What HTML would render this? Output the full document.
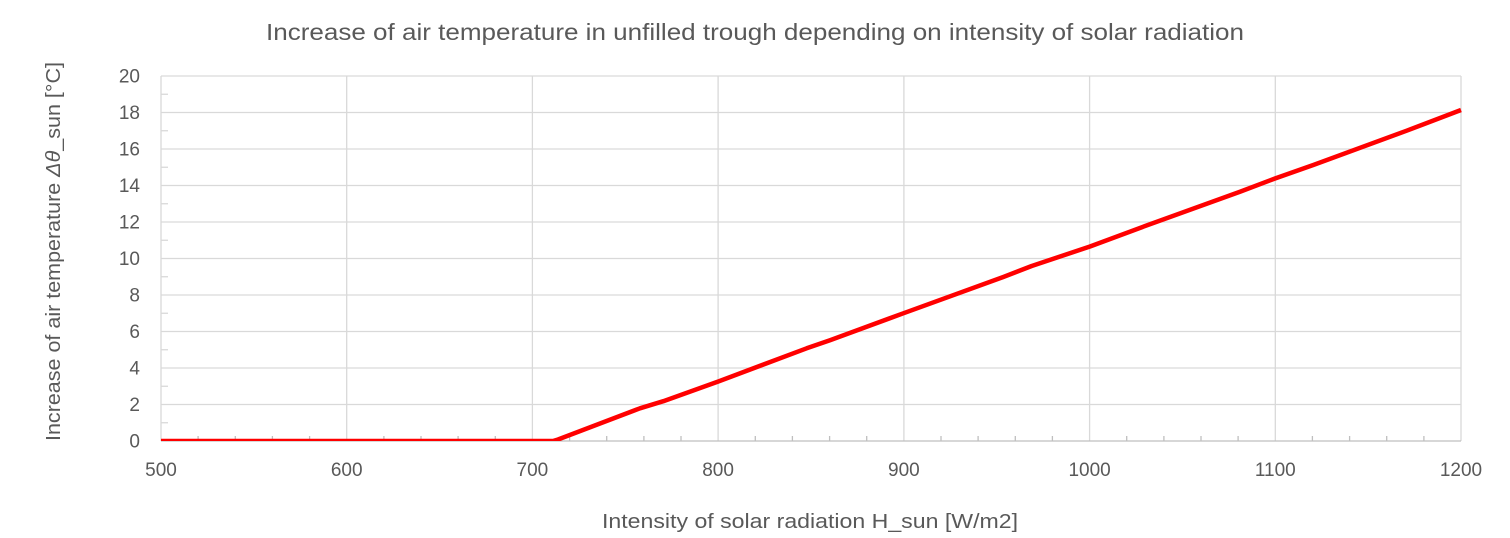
<!DOCTYPE html>
<html><head><meta charset="utf-8"><style>
html,body{margin:0;padding:0;background:#fff;}
svg{display:block;font-family:"Liberation Sans",sans-serif;}
</style></head><body>
<svg width="1510" height="538" viewBox="0 0 1510 538" xmlns="http://www.w3.org/2000/svg">
<rect width="1510" height="538" fill="#fff"/>
<text x="266" y="40" font-size="23" fill="#595959" textLength="978" lengthAdjust="spacingAndGlyphs">Increase of air temperature in unfilled trough depending on intensity of solar radiation</text>
<g stroke="#d9d9d9" stroke-width="1.3">
<line x1="161" y1="76" x2="1461" y2="76"/>
<line x1="161" y1="112.5" x2="1461" y2="112.5"/>
<line x1="161" y1="149" x2="1461" y2="149"/>
<line x1="161" y1="185.5" x2="1461" y2="185.5"/>
<line x1="161" y1="222" x2="1461" y2="222"/>
<line x1="161" y1="258.5" x2="1461" y2="258.5"/>
<line x1="161" y1="295" x2="1461" y2="295"/>
<line x1="161" y1="331.5" x2="1461" y2="331.5"/>
<line x1="161" y1="368" x2="1461" y2="368"/>
<line x1="161" y1="404.5" x2="1461" y2="404.5"/>
<line x1="161" y1="76" x2="161" y2="441"/>
<line x1="346.7" y1="76" x2="346.7" y2="441"/>
<line x1="532.4" y1="76" x2="532.4" y2="441"/>
<line x1="718.1" y1="76" x2="718.1" y2="441"/>
<line x1="903.9" y1="76" x2="903.9" y2="441"/>
<line x1="1089.6" y1="76" x2="1089.6" y2="441"/>
<line x1="1275.3" y1="76" x2="1275.3" y2="441"/>
<line x1="1461" y1="76" x2="1461" y2="441"/>
<line x1="161" y1="94.25" x2="168" y2="94.25"/>
<line x1="161" y1="130.75" x2="168" y2="130.75"/>
<line x1="161" y1="167.25" x2="168" y2="167.25"/>
<line x1="161" y1="203.75" x2="168" y2="203.75"/>
<line x1="161" y1="240.25" x2="168" y2="240.25"/>
<line x1="161" y1="276.75" x2="168" y2="276.75"/>
<line x1="161" y1="313.25" x2="168" y2="313.25"/>
<line x1="161" y1="349.75" x2="168" y2="349.75"/>
<line x1="161" y1="386.25" x2="168" y2="386.25"/>
<line x1="161" y1="422.75" x2="168" y2="422.75"/>
</g>
<g stroke="#bfbfbf" stroke-width="1.3">
<line x1="161" y1="441" x2="1461" y2="441"/>
<line x1="198.1" y1="436" x2="198.1" y2="441"/><line x1="235.3" y1="436" x2="235.3" y2="441"/><line x1="272.4" y1="436" x2="272.4" y2="441"/><line x1="309.6" y1="436" x2="309.6" y2="441"/>
<line x1="383.9" y1="436" x2="383.9" y2="441"/><line x1="421" y1="436" x2="421" y2="441"/><line x1="458.1" y1="436" x2="458.1" y2="441"/><line x1="495.3" y1="436" x2="495.3" y2="441"/>
<line x1="569.6" y1="436" x2="569.6" y2="441"/><line x1="606.7" y1="436" x2="606.7" y2="441"/><line x1="643.9" y1="436" x2="643.9" y2="441"/><line x1="681" y1="436" x2="681" y2="441"/>
<line x1="755.3" y1="436" x2="755.3" y2="441"/><line x1="792.4" y1="436" x2="792.4" y2="441"/><line x1="829.6" y1="436" x2="829.6" y2="441"/><line x1="866.7" y1="436" x2="866.7" y2="441"/>
<line x1="941" y1="436" x2="941" y2="441"/><line x1="978.1" y1="436" x2="978.1" y2="441"/><line x1="1015.3" y1="436" x2="1015.3" y2="441"/><line x1="1052.4" y1="436" x2="1052.4" y2="441"/>
<line x1="1126.7" y1="436" x2="1126.7" y2="441"/><line x1="1163.9" y1="436" x2="1163.9" y2="441"/><line x1="1201" y1="436" x2="1201" y2="441"/><line x1="1238.1" y1="436" x2="1238.1" y2="441"/>
<line x1="1312.4" y1="436" x2="1312.4" y2="441"/><line x1="1349.6" y1="436" x2="1349.6" y2="441"/><line x1="1386.7" y1="436" x2="1386.7" y2="441"/><line x1="1423.9" y1="436" x2="1423.9" y2="441"/>
</g>
<defs><clipPath id="pa"><rect x="150" y="60" width="1320" height="381"/></clipPath></defs>
<polyline clip-path="url(#pa)" fill="none" stroke="#ff0000" stroke-width="4.5" stroke-linejoin="round"
points="161,441 553,441 558,439.5 640,408.3 663.3,401.2 718.3,381.5 806.7,348.3 830,340.2 903.3,313.3 1003.3,277 1031.7,266 1090,246.5 1143.3,226.7 1240,191.7 1275,178.5 1313.3,165 1406.7,130.7 1461,110"/>
<g font-size="19" fill="#595959" text-anchor="end">
<text x="140" y="82.5">20</text>
<text x="140" y="119">18</text>
<text x="140" y="155.5">16</text>
<text x="140" y="192">14</text>
<text x="140" y="228.5">12</text>
<text x="140" y="265">10</text>
<text x="140" y="301.5">8</text>
<text x="140" y="338">6</text>
<text x="140" y="374.5">4</text>
<text x="140" y="411">2</text>
<text x="140" y="447.5">0</text>
</g>
<g font-size="19" fill="#595959" text-anchor="middle">
<text x="161" y="476">500</text>
<text x="346.7" y="476">600</text>
<text x="532.4" y="476">700</text>
<text x="718.1" y="476">800</text>
<text x="903.9" y="476">900</text>
<text x="1089.6" y="476">1000</text>
<text x="1275.3" y="476">1100</text>
<text x="1461" y="476">1200</text>
</g>
<text x="602" y="528" font-size="20" fill="#595959" textLength="416" lengthAdjust="spacingAndGlyphs">Intensity of solar radiation H_sun [W/m2]</text>
<text transform="translate(60,441) rotate(-90)" x="0" y="0" font-size="20" fill="#595959" textLength="379" lengthAdjust="spacingAndGlyphs">Increase of air temperature <tspan font-style="italic">Δθ</tspan>_sun [°C]</text>
</svg>
</body></html>
